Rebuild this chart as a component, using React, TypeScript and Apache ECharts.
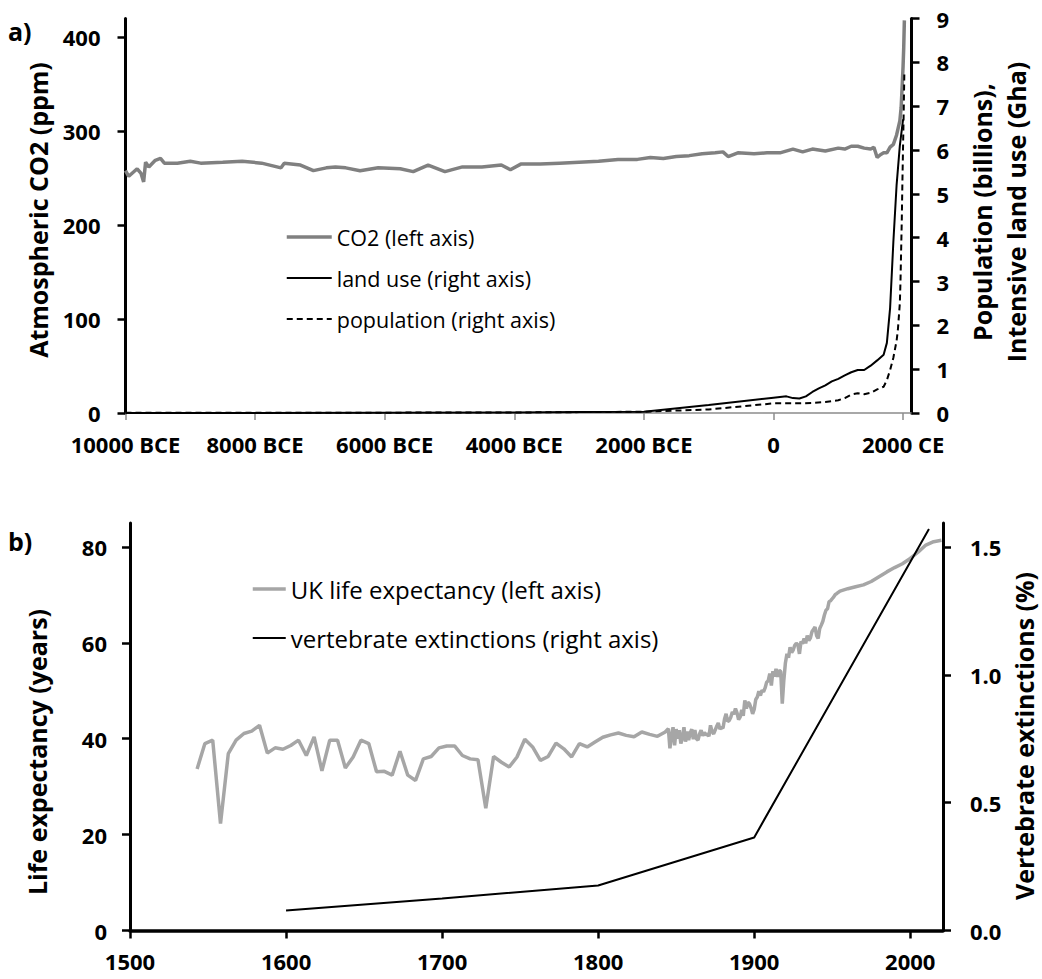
import React, { useEffect, useRef } from 'react';
import * as echarts from 'echarts';

const FONT = "'Open Sans', 'DejaVu Sans', sans-serif";

// ---------- Panel a ----------
const co2Years = [-10000, -9950, -9820, -9760, -9720, -9690, -9640, -9540, -9460, -9400, -9200, -9000, -8840, -8500, -8200, -7900, -7600, -7550, -7300, -7100, -6900, -6760, -6600, -6380, -6100, -5760, -5560, -5330, -5070, -4800, -4500, -4200, -4060, -3900, -3600, -3300, -3000, -2700, -2400, -2100, -1900, -1700, -1500, -1300, -1100, -900, -780, -700, -550, -300, -100, 100, 300, 450, 600, 800, 1000, 1100, 1200, 1300, 1400, 1500, 1550, 1600, 1650, 1700, 1750, 1800, 1850, 1900, 1950, 1970, 1990, 2000, 2010, 2020];
const co2Values = [258, 252, 260, 255, 246, 267, 262, 269, 271, 266, 266, 268, 266, 267, 268, 266, 261, 266, 264, 258, 261, 262, 261, 258, 261, 260, 257, 264, 257, 262, 262, 264, 259, 265, 265, 266, 267, 268, 270, 270, 272, 271, 273, 274, 276, 277, 278, 273, 277, 276, 277, 277, 281, 278, 281, 279, 282, 281, 284, 284, 282, 281, 283, 272, 275, 277, 277, 283, 286, 296, 311, 325, 354, 369, 389, 418];

const landYears = [-10000, -8000, -6000, -4000, -3000, -2000, -1000, 0, 200, 300, 400, 500, 600, 700, 800, 900, 1000, 1100, 1200, 1300, 1400, 1500, 1600, 1700, 1750, 1800, 1850, 1900, 1950, 2000];
const landValues = [0, 0, 0.005, 0.01, 0.02, 0.03, 0.18, 0.35, 0.38, 0.34, 0.33, 0.38, 0.48, 0.56, 0.63, 0.72, 0.78, 0.86, 0.93, 0.98, 0.98, 1.08, 1.2, 1.33, 1.6, 2.4, 3.9, 5.2, 6.1, 6.7];

const popYears = [-10000, -8000, -6000, -4000, -3000, -2000, -1000, 0, 200, 400, 600, 800, 1000, 1100, 1200, 1300, 1400, 1500, 1600, 1700, 1750, 1800, 1850, 1900, 1920, 1940, 1950, 1960, 1970, 1980, 1990, 2000, 2010, 2020];
const popValues = [0.004, 0.005, 0.008, 0.012, 0.02, 0.03, 0.08, 0.22, 0.22, 0.22, 0.23, 0.25, 0.29, 0.34, 0.42, 0.45, 0.43, 0.46, 0.54, 0.6, 0.75, 0.98, 1.26, 1.65, 1.9, 2.3, 2.5, 3.0, 3.7, 4.4, 5.3, 6.1, 6.9, 7.8];

const eraTicks = [-10000, -8000, -6000, -4000, -2000, 0, 2000];
const co2Ticks = [0, 100, 200, 300, 400];
const popTicks = [0, 1, 2, 3, 4, 5, 6, 7, 8, 9];

// ---------- Panel b ----------
const lifeYears = [
  1543, 1548, 1553, 1558, 1563, 1568, 1573, 1578, 1583, 1588, 1593, 1598, 1603, 1608, 1613, 1618, 1623, 1628, 1633, 1638,
  1643, 1648, 1653, 1658, 1663, 1668, 1673, 1678, 1683, 1688, 1693, 1698, 1703, 1708, 1713, 1718, 1723, 1728, 1733, 1738,
  1743, 1748, 1753, 1758, 1763, 1768, 1773, 1778, 1783, 1788, 1793, 1798, 1803, 1808, 1813, 1818, 1823, 1828, 1833, 1838,
  1843, 1845, 1846, 1847, 1848, 1849, 1850, 1851, 1852, 1853, 1854, 1855, 1856, 1857, 1858, 1859, 1860, 1861, 1862, 1863,
  1864, 1865, 1866, 1867, 1868, 1869, 1870, 1871, 1872, 1873, 1874, 1875, 1876, 1877, 1878, 1879, 1880, 1881, 1882, 1883,
  1884, 1885, 1886, 1887, 1888, 1889, 1890, 1891, 1892, 1893, 1894, 1895, 1896, 1897, 1898, 1899, 1900, 1901, 1902, 1903,
  1904, 1905, 1906, 1907, 1908, 1909, 1910, 1911, 1912, 1913, 1914, 1915, 1916, 1917, 1918, 1919, 1920, 1921, 1922, 1923,
  1924, 1925, 1926, 1927, 1928, 1929, 1930, 1931, 1932, 1933, 1934, 1935, 1936, 1937, 1938, 1939, 1940, 1941, 1942, 1943,
  1944, 1945, 1946, 1947, 1948, 1949, 1950, 1951, 1952, 1953, 1955, 1960, 1965, 1970, 1975, 1980, 1985, 1990, 1995, 2000,
  2005, 2010, 2015, 2020,
];
const lifeValues = [
  33.7, 39.0, 39.7, 22.3, 36.9, 39.7, 41.1, 41.6, 42.8, 37.0, 38.1, 37.8, 38.6, 39.7, 36.5, 40.4, 33.3, 39.7, 39.7, 33.9,
  36.2, 39.7, 39.0, 33.1, 33.2, 32.4, 37.4, 32.4, 31.3, 35.8, 36.3, 38.1, 38.5, 38.5, 36.5, 35.8, 35.6, 25.5, 36.3, 35.1,
  34.1, 36.2, 39.9, 38.3, 35.5, 36.3, 39.1, 37.9, 36.2, 39.0, 38.3, 39.3, 40.3, 40.8, 41.2, 40.7, 40.4, 41.4, 40.9, 40.5,
  41.4, 42.1, 38.0, 40.5, 42.4, 38.6, 42.0, 40.0, 41.8, 39.0, 40.2, 42.4, 39.4, 41.5, 39.7, 41.2, 42.0, 39.9, 41.8, 40.0,
  39.7, 41.0, 41.8, 40.6, 41.3, 40.8, 41.0, 40.5, 42.8, 41.5, 41.0, 41.8, 42.6, 43.3, 42.0, 42.4, 42.2, 44.1, 45.2, 43.6,
  43.8, 44.5, 45.6, 45.1, 46.3, 45.4, 44.0, 44.5, 46.0, 44.8, 48.0, 46.3, 47.6, 47.3, 46.4, 45.2, 46.1, 48.2, 48.7, 49.9,
  49.0, 50.1, 49.8, 50.6, 51.8, 52.1, 53.6, 51.1, 54.1, 53.0, 54.6, 52.9, 54.3, 54.0, 47.3, 52.2, 55.8, 57.7, 56.9, 59.1,
  58.0, 58.5, 59.5, 59.9, 59.6, 57.7, 60.3, 59.8, 60.9, 59.9, 61.5, 60.5, 61.0, 62.3, 62.8, 63.3, 61.5, 60.9, 63.0, 63.7,
  64.5, 65.8, 66.8, 67.1, 68.6, 68.8, 69.2, 69.6, 70.1, 70.3, 70.8, 71.3, 71.7, 72.1, 72.8, 73.8, 74.8, 75.7, 76.5, 77.6,
  78.9, 80.4, 81.1, 81.4,
];

const extYears = [1600, 1700, 1800, 1900, 2012];
const extValues = [0.078, 0.125, 0.176, 0.364, 1.57];

const yearTicks = [1500, 1600, 1700, 1800, 1900, 2000];
const lifeTicks = [0, 20, 40, 60, 80];
const extTicks = [0, 0.5, 1.0, 1.5];

const pairs = (xs: number[], ys: number[]) => xs.map((x, i) => [x, ys[i]]);
const inList = (list: number[]) => (v: number) => list.some((t) => Math.abs(t - v) < 1e-6);

const eraLabel = (v: number) => {
  if (!inList(eraTicks)(v)) return '';
  if (v === 0) return '0';
  return v < 0 ? `${-v} BCE` : `${v} CE`;
};

const tickFont = { fontFamily: FONT, fontWeight: 'bold' as const, fontSize: 22, color: '#000', lineHeight: 22 };

export default function App() {
  const ref = useRef<HTMLDivElement>(null);
  useEffect(() => {
    if (!ref.current) return;
    const chart = echarts.init(ref.current, undefined, { renderer: 'svg' });
    const blackAxis = (w: number) => ({ show: true, onZero: false, lineStyle: { color: '#000', width: w } });
    const hiddenSymbol = { opacity: 0, color: 'rgba(0,0,0,0)', borderWidth: 0 };
    const option: any = {
      animation: false,
      backgroundColor: '#ffffff',
      textStyle: { fontFamily: FONT },
      grid: [
        { left: 125.5, top: 18.5, width: 786, height: 394.5, outerBoundsMode: 'none', containLabel: false },
        { left: 130, top: 523, width: 813, height: 407.5, outerBoundsMode: 'none', containLabel: false },
      ],
      xAxis: [
        {
          type: 'value', gridIndex: 0, min: -10000, max: 2130, interval: 2000,
          axisLine: { show: true, onZero: false, lineStyle: { color: '#8c8c8c', width: 1.5 } },
          axisTick: { show: true, customValues: eraTicks, length: 7, lineStyle: { color: '#8c8c8c', width: 1.5 } },
          axisLabel: { ...tickFont, customValues: eraTicks, margin: 20, formatter: eraLabel },
          splitLine: { show: false },
        },
        {
          type: 'value', gridIndex: 1, min: 1500, max: 2021, interval: 100,
          axisLine: blackAxis(3.5),
          axisTick: { show: true, customValues: yearTicks, length: 8, lineStyle: { color: '#000', width: 2.5 } },
          axisLabel: { ...tickFont, customValues: yearTicks, margin: 19, formatter: (v: number) => (inList(yearTicks)(v) ? String(v) : '') },
          splitLine: { show: false },
        },
      ],
      yAxis: [
        {
          type: 'value', gridIndex: 0, position: 'left', min: 0, max: 420, interval: 100,
          axisLine: blackAxis(3),
          axisTick: { show: true, customValues: co2Ticks, length: 8, lineStyle: { color: '#000', width: 2.5 } },
          axisLabel: { ...tickFont, customValues: co2Ticks, margin: 25, formatter: (v: number) => (inList(co2Ticks)(v) ? String(v) : '') },
          splitLine: { show: false },
        },
        {
          type: 'value', gridIndex: 0, position: 'right', min: 0, max: 9, interval: 1,
          axisLine: blackAxis(3),
          axisTick: { show: true, customValues: popTicks, length: 8, lineStyle: { color: '#000', width: 2.5 } },
          axisLabel: { ...tickFont, customValues: popTicks, margin: 25 },
          splitLine: { show: false },
        },
        {
          type: 'value', gridIndex: 1, position: 'left', min: 0, max: 85, interval: 20,
          axisLine: blackAxis(3),
          axisTick: { show: true, customValues: lifeTicks, length: 8, lineStyle: { color: '#000', width: 2.5 } },
          axisLabel: { ...tickFont, customValues: lifeTicks, margin: 23, formatter: (v: number) => (inList(lifeTicks)(v) ? String(v) : '') },
          splitLine: { show: false },
        },
        {
          type: 'value', gridIndex: 1, position: 'right', min: 0, max: 1.59375, interval: 0.5,
          axisLine: blackAxis(3),
          axisTick: { show: true, customValues: extTicks, length: 8, lineStyle: { color: '#000', width: 2.5 } },
          axisLabel: { ...tickFont, customValues: extTicks, margin: 27, formatter: (v: number) => (inList(extTicks)(v) ? v.toFixed(1) : '') },
          splitLine: { show: false },
        },
      ],
      legend: [
        {
          data: ['CO2 (left axis)', 'land use (right axis)', 'population (right axis)'],
          orient: 'vertical', left: 280, top: 220, itemWidth: 45, itemHeight: 14, itemGap: 17,
          itemStyle: hiddenSymbol,
          lineStyle: { width: 'inherit' },
          textStyle: { fontFamily: FONT, fontSize: 21.5, color: '#000', lineHeight: 24 },
          selectedMode: false,
        },
        {
          data: ['UK life expectancy (left axis)', 'vertebrate extinctions (right axis)'],
          orient: 'vertical', left: 246, top: 571, itemWidth: 33, itemHeight: 14, itemGap: 23,
          itemStyle: hiddenSymbol,
          lineStyle: { width: 'inherit' },
          textStyle: { fontFamily: FONT, fontSize: 24, color: '#000', lineHeight: 26 },
          selectedMode: false,
        },
      ],
      series: [
        {
          name: 'CO2 (left axis)', type: 'line', xAxisIndex: 0, yAxisIndex: 0, symbol: 'none',
          data: pairs(co2Years, co2Values),
          lineStyle: { color: '#808080', width: 3.5 }, itemStyle: { color: '#808080' },
        },
        {
          name: 'land use (right axis)', type: 'line', xAxisIndex: 0, yAxisIndex: 1, symbol: 'none',
          data: pairs(landYears, landValues),
          lineStyle: { color: '#000', width: 2 }, itemStyle: { color: '#000' },
        },
        {
          name: 'population (right axis)', type: 'line', xAxisIndex: 0, yAxisIndex: 1, symbol: 'none',
          data: pairs(popYears, popValues),
          lineStyle: { color: '#000', width: 2, type: [6, 4] }, itemStyle: { color: '#000' },
        },
        {
          name: 'UK life expectancy (left axis)', type: 'line', xAxisIndex: 1, yAxisIndex: 2, symbol: 'none',
          data: pairs(lifeYears, lifeValues),
          lineStyle: { color: '#a6a6a6', width: 3.5 }, itemStyle: { color: '#a6a6a6' },
        },
        {
          name: 'vertebrate extinctions (right axis)', type: 'line', xAxisIndex: 1, yAxisIndex: 3, symbol: 'none',
          data: pairs(extYears, extValues),
          lineStyle: { color: '#000', width: 2 }, itemStyle: { color: '#000' },
        },
      ],
      graphic: [
        { type: 'text', x: 8, y: 31, style: { text: 'a)', font: `bold 25px ${FONT}`, fill: '#000', align: 'left', verticalAlign: 'middle' } },
        { type: 'text', x: 8, y: 541, style: { text: 'b)', font: `bold 25px ${FONT}`, fill: '#000', align: 'left', verticalAlign: 'middle' } },
        { type: 'text', x: 38, y: 210, rotation: Math.PI / 2, style: { text: 'Atmospheric CO2 (ppm)', font: `bold 25px ${FONT}`, fill: '#000', align: 'center', verticalAlign: 'middle' } },
        { type: 'text', x: 999, y: 212, rotation: Math.PI / 2, style: { text: 'Population (billions),\nIntensive land use (Gha)', font: `bold 25px ${FONT}`, fill: '#000', align: 'center', verticalAlign: 'middle', lineHeight: 34 } },
        { type: 'text', x: 37, y: 752, rotation: Math.PI / 2, style: { text: 'Life expectancy (years)', font: `bold 25px ${FONT}`, fill: '#000', align: 'center', verticalAlign: 'middle' } },
        { type: 'text', x: 1024, y: 736, rotation: Math.PI / 2, style: { text: 'Vertebrate extinctions (%)', font: `bold 25px ${FONT}`, fill: '#000', align: 'center', verticalAlign: 'middle' } },
      ],
    };
    chart.setOption(option);
    return () => chart.dispose();
  }, []);
  return <div ref={ref} style={{ position: 'absolute', left: 0, top: 0, width: 1042, height: 979, background: '#fff' }} />;
}
